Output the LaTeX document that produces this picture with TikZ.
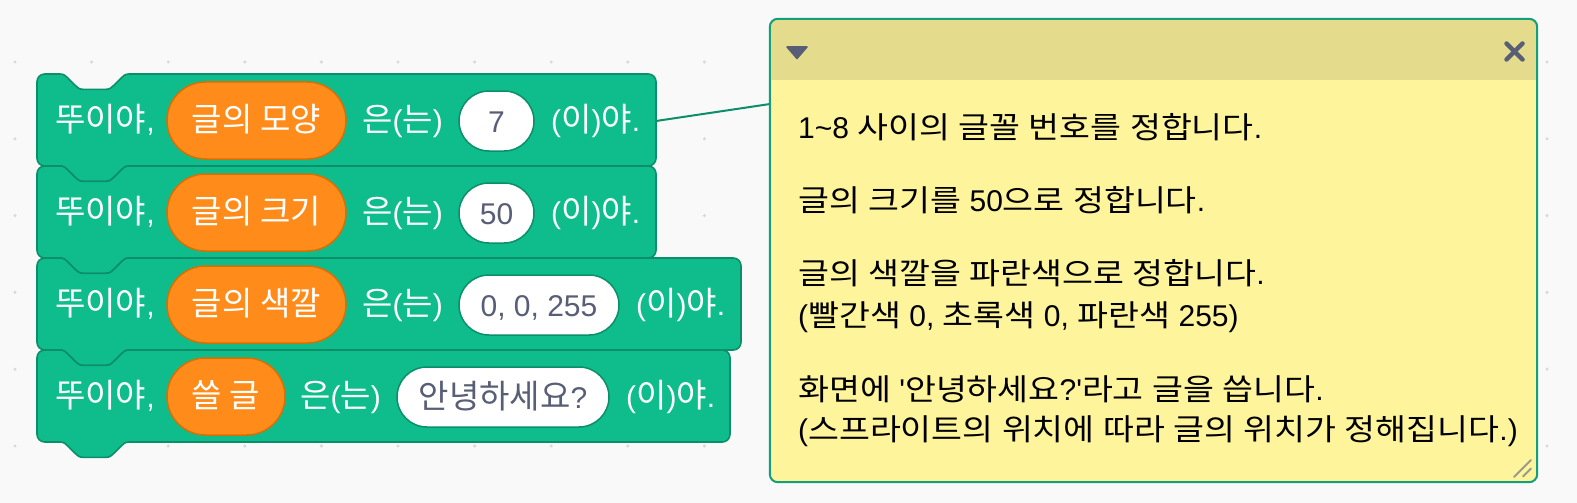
\documentclass[tikz,border=0pt]{standalone}
\usepackage{fontspec}
\setmainfont{Noto Sans CJK KR}[FakeStretch=1.12, WordSpace=1.12]
\newfontfamily\bkr{Noto Sans CJK KR}[Scale=1.1, WordSpace=1.05]
\newfontfamily\lat{Liberation Sans}
\newcommand\la[1]{{\lat #1}}
\definecolor{bgc}{HTML}{F9F9F9}
\definecolor{dotc}{HTML}{D9D9D9}
\definecolor{greenF}{HTML}{0FBD8C}
\definecolor{greenB}{HTML}{0B8E69}
\definecolor{orangeF}{HTML}{FF8C1A}
\definecolor{orangeB}{HTML}{DB6E00}
\definecolor{ovalT}{HTML}{575E75}
\definecolor{hdrc}{HTML}{E4DB8C}
\definecolor{bodyc}{HTML}{FEF49C}
\definecolor{cbord}{HTML}{12A07A}
\definecolor{gripc}{HTML}{9A9A8A}
\newcommand\sblock[3]{%
 \begin{scope}[shift={(#1,#2)}, scale=1.916667]
 \pgfmathsetmacro\bw{#3/1.916667}
 \path[blockshape] (0,4) arc[start angle=180,end angle=270,radius=4] -- (12,0)
   .. controls (14,0) and (15,1) .. (16,2) -- (20,6) .. controls (21,7) and (22,8) .. (24,8)
   -- (36,8) .. controls (38,8) and (39,7) .. (40,6) -- (44,2) .. controls (45,1) and (46,0) .. (48,0)
   -- ({\bw-4},0) arc[start angle=270,end angle=360,radius=4] -- (\bw,44)
   arc[start angle=0,end angle=90,radius=4] -- (48,48)
   .. controls (46,48) and (45,49) .. (44,50) -- (40,54) .. controls (39,55) and (38,56) .. (36,56)
   -- (24,56) .. controls (22,56) and (21,55) .. (20,54) -- (16,50) .. controls (15,49) and (14,48) .. (12,48)
   -- (4,48) arc[start angle=90,end angle=180,radius=4] -- cycle;
 \end{scope}}
\tikzset{
 blockshape/.style={fill=greenF, draw=greenB, line width=1.6pt, line join=round},
 bfont/.style={font=\bkr\fontsize{30}{36}\selectfont, text height=22pt, text depth=0pt},
 lbl/.style={bfont, anchor=west, inner sep=0pt, text=white},
 pill/.style={bfont, fill=orangeF, draw=orangeB, line width=1.5pt, rounded corners=38.5pt, minimum height=77pt, inner sep=0pt, text=white},
 oval/.style={bfont, fill=white, draw=greenB, line width=1.5pt, rounded corners=30pt, minimum height=60pt, inner sep=0pt, text=ovalT},
 ctext/.style={anchor=base west, inner sep=0pt, text=black, font=\fontsize{30}{36}\selectfont},
 link/.style={draw=greenB, line width=2pt},
 icon/.style={fill=ovalT, draw=ovalT, line join=round, line width=1.5pt},
 xmark/.style={draw=ovalT, line width=4.5pt, line cap=round},
 grip/.style={draw=gripc, line width=2pt, line cap=round},
}
\begin{document}
\begin{tikzpicture}[x=1pt,y=-1pt]
\useasboundingbox (0,0) rectangle (1577,503);
\fill[bgc] (0,0) rectangle (1577,503);
\foreach \i in {0,...,20} \foreach \j in {0,...,5}
  \fill[dotc] ({15+76.6*\i},{62+76.8*\j}) circle[radius=1.7];
% blocks
\sblock{37}{74}{619}
\sblock{37}{166}{619}
\sblock{37}{258}{704}
\sblock{37}{350}{693}
% block 1
\node[lbl] (a1) at (55,120) {뚜이야\la{,}};
\node[pill, minimum width=179pt] (p1) at (256.5,120.5) {글의 모양};
\node[lbl] (b1) at (362,120) {은\la{(}는\la{)}};
\node[oval, minimum width=75pt] (v1) at (496.5,121) {\la{7}};
\node[lbl] (c1) at (551,120) {\la{(}이\la{)}야\la{.}};
% block 2
\node[lbl] (a2) at (55,212) {뚜이야\la{,}};
\node[pill, minimum width=179pt] (p2) at (256.5,212.5) {글의 크기};
\node[lbl] (b2) at (362,212) {은\la{(}는\la{)}};
\node[oval, minimum width=75pt] (v2) at (496.5,213) {\la{50}};
\node[lbl] (c2) at (551,212) {\la{(}이\la{)}야\la{.}};
% block 3
\node[lbl] (a3) at (55,304) {뚜이야\la{,}};
\node[pill, minimum width=179pt] (p3) at (256.5,304.5) {글의 색깔};
\node[lbl] (b3) at (362,304) {은\la{(}는\la{)}};
\node[oval, minimum width=160pt] (v3) at (539,305) {\la{0, 0, 255}};
\node[lbl] (c3) at (636,304) {\la{(}이\la{)}야\la{.}};
% block 4
\node[lbl] (a4) at (55,396) {뚜이야\la{,}};
\node[pill, minimum width=118pt] (p4) at (226,396.5) {쓸 글};
\node[lbl] (b4) at (300,396) {은\la{(}는\la{)}};
\node[oval, minimum width=212pt] (v4) at (503,397) {안녕하세요\la{?}};
\node[lbl] (c4) at (626,396) {\la{(}이\la{)}야\la{.}};
% comment
\coordinate (blk1r) at (656,121);
\coordinate (cmtl) at (770,104);
\draw[link] (blk1r) -- (cmtl);
\node[fill=bodyc, rounded corners=8pt, minimum width=767pt, minimum height=463pt, inner sep=0pt] (cmt) at (1153.5,250.5) {};
\fill[hdrc] (770,80) -- (770,27) arc[start angle=180,end angle=270,radius=8] -- (1529,19)
  arc[start angle=270,end angle=360,radius=8] -- (1537,80) -- cycle;
\draw[draw=cbord, line width=2pt, rounded corners=8pt] (cmt.south west) rectangle (cmt.north east);
\coordinate (tri1) at (787,47); \coordinate (tri2) at (807,47); \coordinate (tri3) at (797,58.5);
\path[icon] (tri1) -- (tri2) -- (tri3) -- cycle;
\coordinate (xa) at (1506.5,43.5); \coordinate (xb) at (1522.5,59.5);
\coordinate (xc) at (1522.5,43.5); \coordinate (xd) at (1506.5,59.5);
\draw[xmark] (xa) -- (xb); \draw[xmark] (xc) -- (xd);
\coordinate (g1) at (1531,460); \coordinate (g2) at (1514,477);
\coordinate (g3) at (1531,468.5); \coordinate (g4) at (1523,476.5);
\draw[grip] (g1) -- (g2); \draw[grip] (g3) -- (g4);
\node[ctext] (t1) at (798,138) {\la{1\textasciitilde 8} 사이의 글꼴 번호를 정합니다\la{.}};
\node[ctext] (t2) at (798,211.5) {글의 크기를 \la{50}으로 정합니다\la{.}};
\node[ctext] (t3) at (798,284) {글의 색깔을 파란색으로 정합니다\la{.}};
\node[ctext] (t4) at (798,326.5) {\la{(}빨간색 \la{0,} 초록색 \la{0,} 파란색 \la{255)}};
\node[ctext] (t5) at (798,400) {화면에 \la{'}안녕하세요\la{?'}라고 글을 씁니다\la{.}};
\node[ctext] (t6) at (798,440) {\la{(}스프라이트의 위치에 따라 글의 위치가 정해집니다\la{.)}};
\end{tikzpicture}
\end{document}
